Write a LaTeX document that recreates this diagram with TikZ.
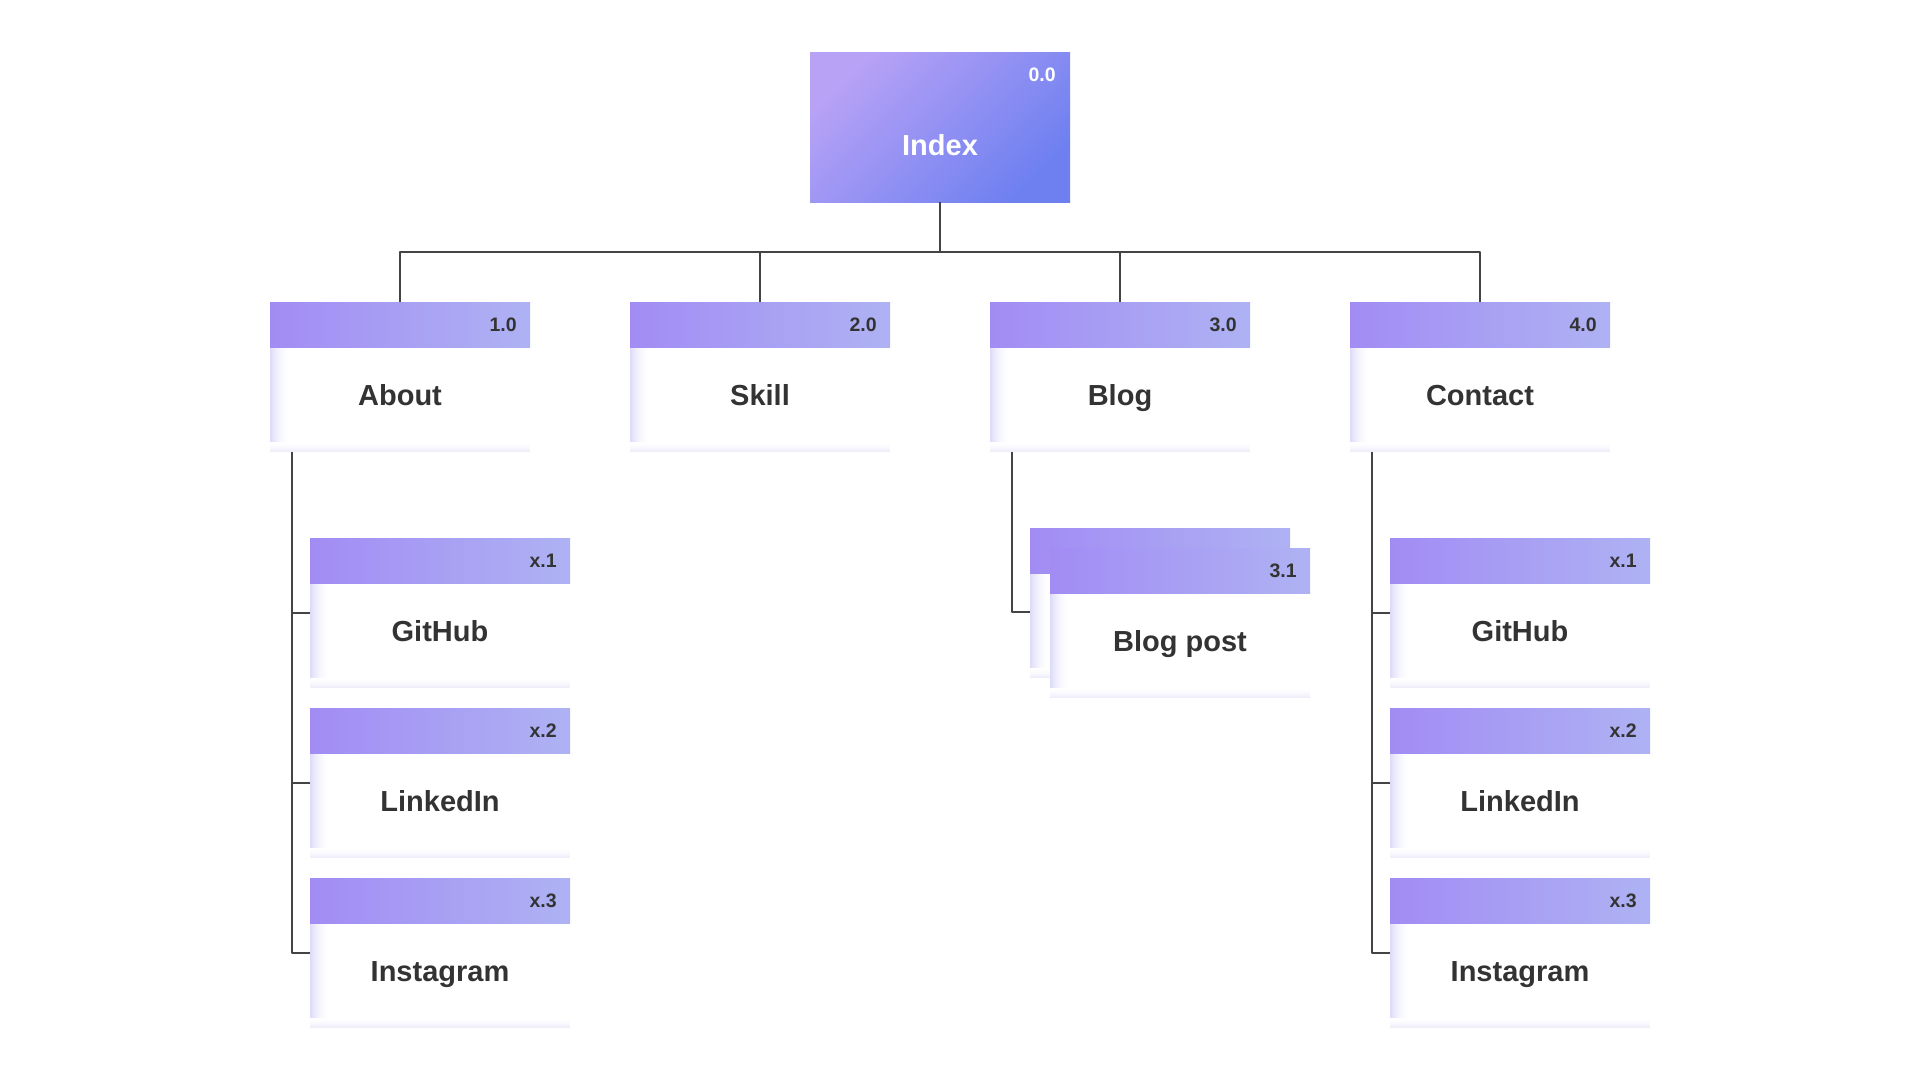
\documentclass[tikz,border=0pt]{standalone}
\usepackage{fontspec}
\setmainfont{Liberation Sans}
\definecolor{ink}{HTML}{333333}
\definecolor{wire}{HTML}{444444}
\definecolor{headA}{HTML}{A28CF4}
\definecolor{headB}{HTML}{AEB2F3}
\definecolor{idxA}{HTML}{B7A2F6}
\definecolor{idxB}{HTML}{6E80F0}
\definecolor{cardL}{HTML}{DCDBF7}
\definecolor{cardB}{HTML}{EEEDFA}
\begin{document}
\begin{tikzpicture}[x=1pt,y=-1pt,line join=round,
	link/.style={draw=wire,line width=2pt},
	card/.style={minimum width=260pt,minimum height=150pt,inner sep=0pt,fill=white,
		path picture={
			\foreach \i in {0,...,19}
				\fill[cardL!\the\numexpr(20-\i)*(20-\i)/4\relax!white] ([xshift=\i pt]path picture bounding box.south west) rectangle ([xshift=\i pt+1.2pt]path picture bounding box.north west);
			\foreach \i in {0,...,9}
				\fill[cardB!\the\numexpr(10-\i)*(10-\i)\relax!white] ([yshift=\i pt]path picture bounding box.south west) rectangle ([yshift=\i pt+1.2pt]path picture bounding box.south east);
			\shade[left color=headA,right color=headB] (path picture bounding box.north west) rectangle ([yshift=-45pt]path picture bounding box.north east);}},
	title/.style={text=ink,font=\fontsize{29}{34}\selectfont\bfseries,text height=21pt,text depth=6pt,yshift=-21pt},
	num/.style={anchor=east,text=ink,font=\fontsize{19.5}{22}\selectfont\bfseries,xshift=-10pt,yshift=-22.5pt},
	indexcard/.style={minimum width=260pt,minimum height=150pt,inner sep=0pt,top color=idxA,bottom color=idxB,shading angle=45}]
	\useasboundingbox[fill=white] (0,0) rectangle (1920,1080);
	% top level
	\node[indexcard,label={[title,text=white]center:Index},label={[num,text=white,xshift=-1pt]north east:0.0}] (index) at (940,127) {};
	\node[card,label={[title]center:About},label={[num]north east:1.0}] (about) at (400,377) {};
	\node[card,label={[title]center:Skill},label={[num]north east:2.0}] (skill) at (760,377) {};
	\node[card,label={[title]center:Blog},label={[num]north east:3.0}] (blog) at (1120,377) {};
	\node[card,label={[title]center:Contact},label={[num]north east:4.0}] (contact) at (1480,377) {};
	\coordinate (bus) at (940,252);
	\draw[link] (index.south) -- (bus);
	\foreach \p in {about,skill,blog,contact}
		\draw[link] (\p.north) |- (bus);
	% about
	\node[card,label={[title]center:GitHub},label={[num]north east:x.1}] (github1) at (440,613) {};
	\node[card,label={[title]center:LinkedIn},label={[num]north east:x.2}] (linkedin1) at (440,783) {};
	\node[card,label={[title]center:Instagram},label={[num]north east:x.3}] (insta1) at (440,953) {};
	\foreach \c in {github1,linkedin1,insta1}
		\draw[link] ([xshift=22pt]about.south west) |- (\c.west);
	% blog
	\node[card] (blogback) at (1160,603) {};
	\node[card,label={[title]center:Blog post},label={[num]north east:3.1}] (blogpost) at (1180,623) {};
	\draw[link] ([xshift=22pt]blog.south west) |- ([yshift=-9pt]blogback.west);
	% contact
	\node[card,label={[title]center:GitHub},label={[num]north east:x.1}] (github2) at (1520,613) {};
	\node[card,label={[title]center:LinkedIn},label={[num]north east:x.2}] (linkedin2) at (1520,783) {};
	\node[card,label={[title]center:Instagram},label={[num]north east:x.3}] (insta2) at (1520,953) {};
	\foreach \c in {github2,linkedin2,insta2}
		\draw[link] ([xshift=22pt]contact.south west) |- (\c.west);
\end{tikzpicture}
\end{document}
